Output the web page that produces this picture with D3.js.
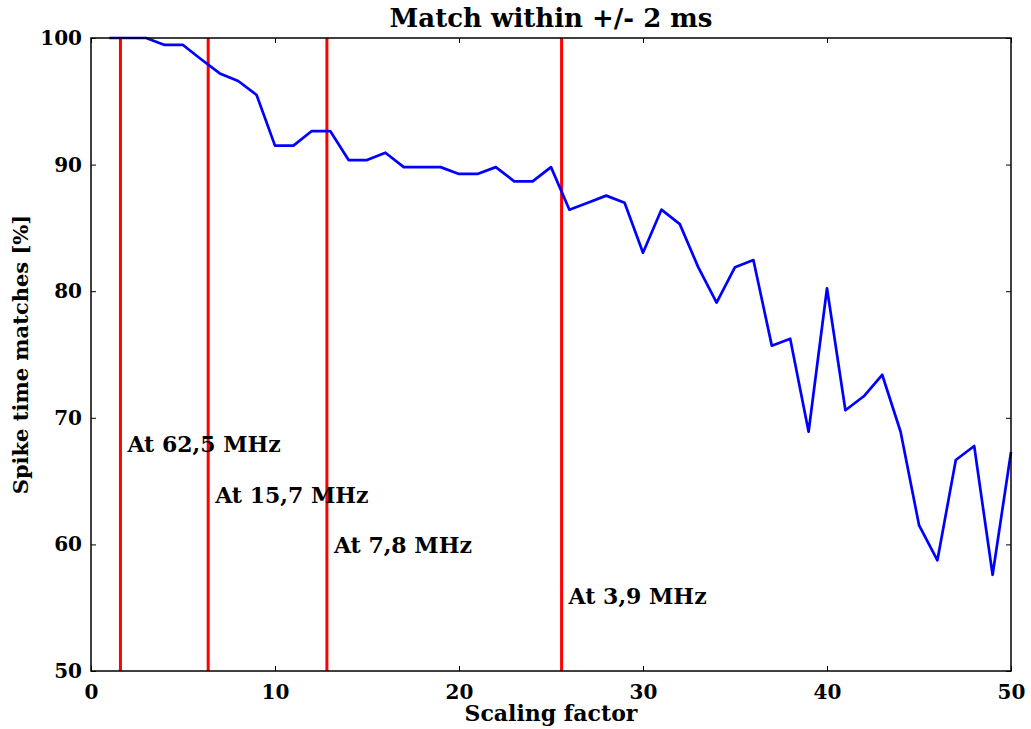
<!DOCTYPE html>
<html>
<head>
<meta charset="utf-8">
<script src="https://cdn.jsdelivr.net/npm/d3@7"></script>
<style>
  body { margin: 0; background: #fff; }
  text { font-family: "DejaVu Serif", serif; font-weight: bold; fill: #000; }
</style>
</head>
<body>
<div id="chartDiv"></div>
<script>
// scaling factor 1..50
var scaling = d3.range(1, 51);
var matches = [100, 100, 100, 99.45, 99.45, 98.3, 97.2, 96.6, 95.5, 91.5,
               91.5, 92.65, 92.65, 90.36, 90.36, 90.94, 89.8, 89.8, 89.8, 89.26,
               89.26, 89.8, 88.68, 88.68, 89.8, 86.44, 86.99, 87.55, 86.99, 83.04,
               86.44, 85.3, 81.9, 79.1, 81.9, 82.46, 75.7, 76.25, 68.9, 80.23,
               70.6, 71.7, 73.4, 68.9, 61.53, 58.74, 66.67, 67.77, 57.6, 67.3];

var freqLabels = ["At 62,5 MHz", "At 15,7 MHz", "At 7,8 MHz", "At 3,9 MHz"];
var freqLines = [100 / 62.5, 100 / 15.7, 100 / 7.8, 100 / 3.91];
var labelY = [67.3, 63.3, 59.3, 55.3];

var xTicks = [0, 10, 20, 30, 40, 50];
var yTicks = [50, 60, 70, 80, 90, 100];

var svg = d3.select("#chartDiv").append("svg")
    .attr("width", 1031)
    .attr("height", 729);

var margin = {top: 38, right: 20, bottom: 58, left: 91};
var width = 1031 - margin.left - margin.right,
    height = 729 - margin.top - margin.bottom;

var x_scale = d3.scaleLinear().domain([0, 50]).range([0, width]);
var y_scale = d3.scaleLinear().domain([50, 100]).range([height, 0]);

var chart = svg.append("g").attr("transform", "translate(" + margin.left + "," + margin.top + ")");

// red marker lines
chart.selectAll(".freq").data(freqLines).enter()
  .append("line").attr("class", "freq")
  .attr("x1", function(d){ return x_scale(d); })
  .attr("x2", function(d){ return x_scale(d); })
  .attr("y1", 0).attr("y2", height)
  .attr("stroke", "#ff0000").attr("stroke-width", 3);

// data line
var line = d3.line()
  .x(function(d, i){ return x_scale(scaling[i]); })
  .y(function(d){ return y_scale(d); });

chart.append("path").datum(matches)
  .attr("d", line)
  .attr("fill", "none")
  .attr("stroke", "#0000ff")
  .attr("stroke-width", 2.7)
  .attr("stroke-linejoin", "round");

// annotations
chart.selectAll(".ann").data(freqLabels).enter()
  .append("text").attr("class", "ann")
  .attr("x", function(d, i){ return x_scale(freqLines[i]) + 7; })
  .attr("y", function(d, i){ return y_scale(labelY[i]); })
  .style("font-size", "22px")
  .text(function(d){ return d; });

// axes: ticks inside, on all sides
var xAxis = d3.axisBottom(x_scale).tickValues(xTicks).tickSize(-5).tickPadding(10);
var xTop = d3.axisTop(x_scale).tickValues(xTicks).tickSize(-5).tickFormat("");
var yAxis = d3.axisLeft(y_scale).tickValues(yTicks).tickSize(-5).tickPadding(9);
var yRight = d3.axisRight(y_scale).tickValues(yTicks).tickSize(-5).tickFormat("");

var gx = chart.append("g").attr("transform", "translate(0," + height + ")").call(xAxis);
var gxt = chart.append("g").call(xTop);
var gy = chart.append("g").call(yAxis);
var gyr = chart.append("g").attr("transform", "translate(" + width + ",0)").call(yRight);

[gx, gxt, gy, gyr].forEach(function(g){
  g.select(".domain").remove();
  g.selectAll(".tick line").attr("stroke", "#000").attr("stroke-width", 1);
  g.selectAll(".tick text").style("font-size", "20px").style("font-family", "DejaVu Serif").style("font-weight", "bold");
});
gx.selectAll(".tick text").attr("dy", "0.9em");

// frame
chart.append("rect")
  .attr("width", width).attr("height", height)
  .attr("fill", "none").attr("stroke", "#000").attr("stroke-width", 1.5);

// titles
svg.append("text")
  .attr("x", margin.left + width / 2).attr("y", 27)
  .attr("text-anchor", "middle")
  .style("font-size", "26px")
  .text("Match within +/- 2 ms");

svg.append("text")
  .attr("x", margin.left + width / 2).attr("y", 721)
  .attr("text-anchor", "middle")
  .style("font-size", "22px")
  .text("Scaling factor");

svg.append("text")
  .attr("transform", "translate(28," + (margin.top + height / 2) + ") rotate(-90)")
  .attr("text-anchor", "middle")
  .style("font-size", "21px")
  .text("Spike time matches [%]");
</script>
</body>
</html>
